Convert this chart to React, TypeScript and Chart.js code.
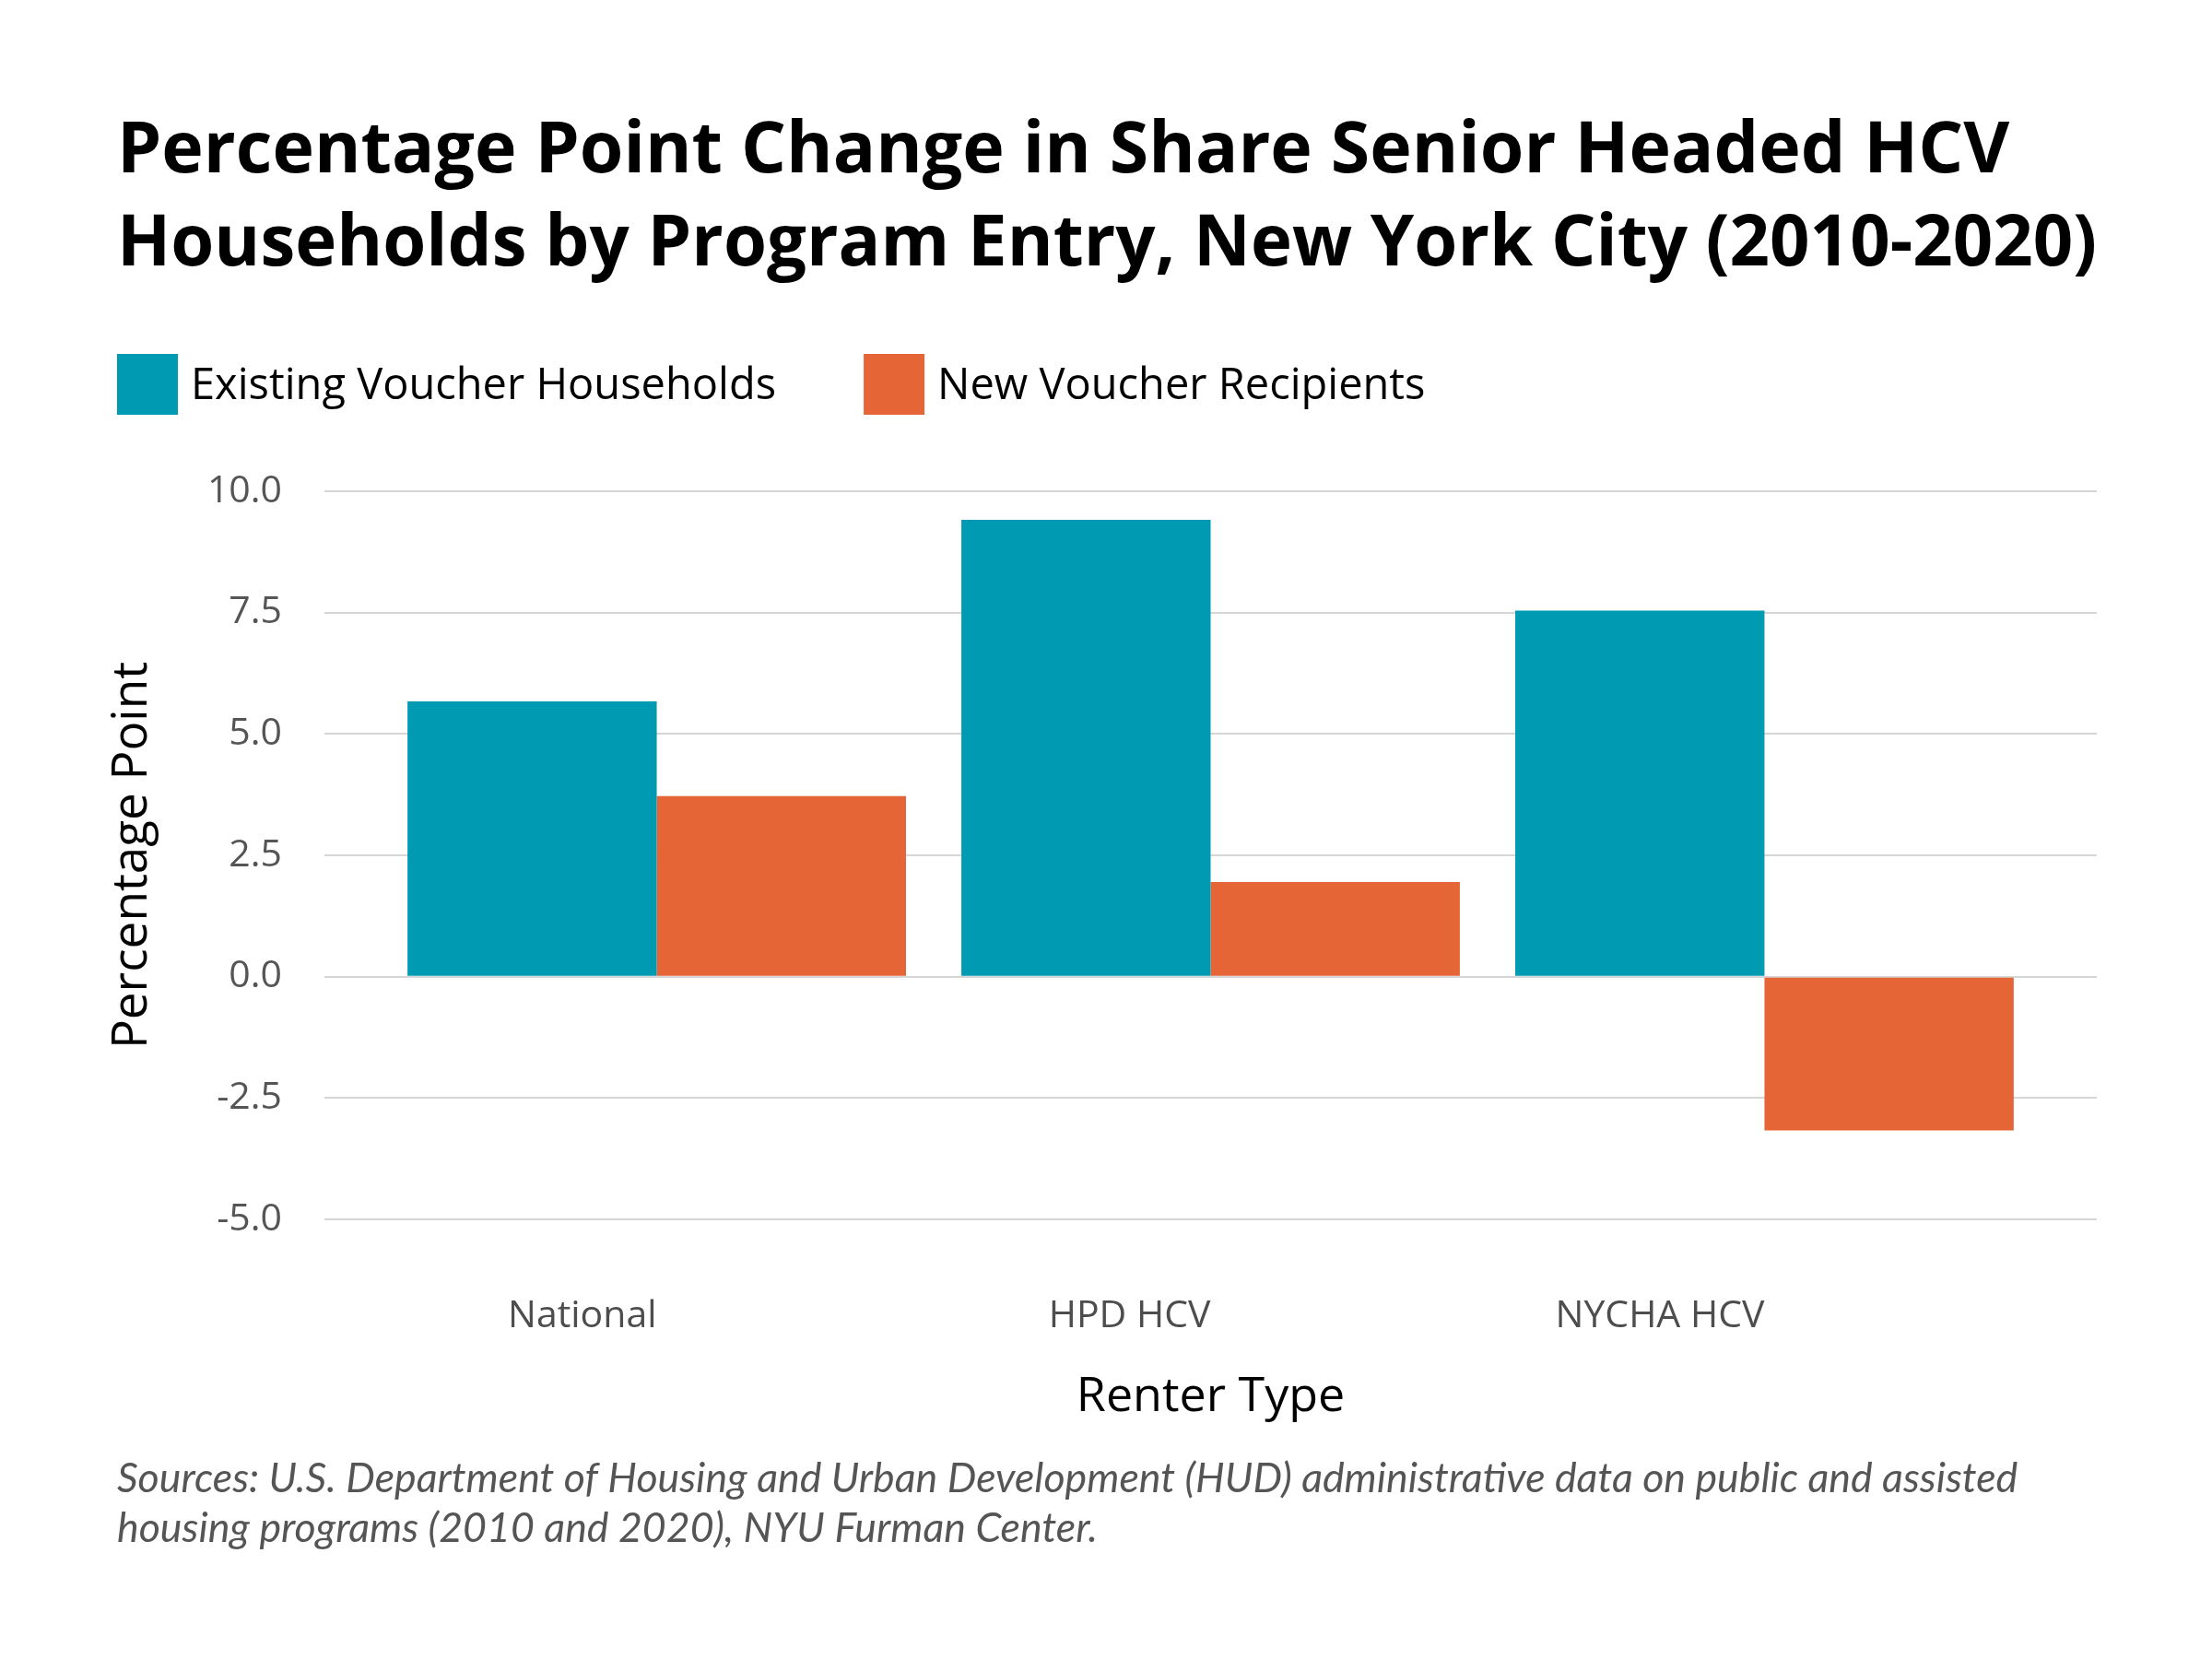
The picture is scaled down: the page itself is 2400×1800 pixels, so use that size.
import React, { useEffect, useRef } from "react";
import { Chart, registerables } from "chart.js";

Chart.register(...registerables);

const categories = ["National", "HPD HCV", "NYCHA HCV"];
const existingVoucher = [5.67, 9.41, 7.54];
const newRecipients = [3.72, 1.95, -3.17];
const seriesLabels = ["Existing Voucher Households", "New Voucher Recipients"];
const seriesColors = ["#009AB3", "#E66537"];
const yTickValues = [-5, -2.5, 0, 2.5, 5, 7.5, 10];
const titleLines = [
  "Percentage Point Change in Share Senior Headed HCV",
  "Households by Program Entry, New York City (2010-2020)",
];
const captionLines = [
  "Sources: U.S. Department of Housing and Urban Development (HUD) administrative data on public and assisted",
  "housing programs (2010 and 2020), NYU Furman Center.",
];
const xAxisTitle = "Renter Type";
const yAxisTitle = "Percentage Point";

const swatchLegend = {
  id: "swatchLegend",
  afterDraw(chart: any, _args: any, opts: any) {
    const ctx = chart.ctx;
    ctx.save();
    ctx.font = `${opts.fontWeight} ${opts.fontSize}px ${opts.fontFamily}`;
    ctx.textBaseline = "alphabetic";
    ctx.textAlign = "left";
    let x = opts.x;
    chart.data.datasets.forEach((ds: any) => {
      ctx.fillStyle = ds.backgroundColor;
      ctx.fillRect(x, opts.y, opts.box, opts.box);
      ctx.fillStyle = opts.color;
      const tx = x + opts.box + opts.textGap;
      ctx.fillText(ds.label, tx, opts.baseline);
      x = tx + ctx.measureText(ds.label).width + opts.itemGap;
    });
    ctx.restore();
  },
};

export default function App() {
  const canvasRef = useRef<HTMLCanvasElement | null>(null);

  useEffect(() => {
    if (!canvasRef.current) return;
    const chart = new Chart(canvasRef.current, {
      type: "bar",
      data: {
        datasets: [
          {
            label: seriesLabels[0],
            data: existingVoucher.map((v, i) => ({ x: i, y: v })),
            backgroundColor: seriesColors[0],
            borderWidth: 0,
          },
          {
            label: seriesLabels[1],
            data: newRecipients.map((v, i) => ({ x: i, y: v })),
            backgroundColor: seriesColors[1],
            borderWidth: 0,
          },
        ],
      },
      options: {
        animation: false,
        responsive: true,
        maintainAspectRatio: false,
        devicePixelRatio: 1,
        layout: { padding: { left: 119, right: 117, top: 0, bottom: 106 } },
        datasets: {
          bar: { categoryPercentage: 0.9, barPercentage: 1.0 },
        },
        scales: {
          x: {
            type: "linear",
            min: -0.6,
            max: 2.6,
            offset: false,
            afterBuildTicks: (scale: any) => {
              scale.ticks = categories.map((_, i) => ({ value: i }));
            },
            afterFit: (scale: any) => {
              scale.height = 224;
            },
            grid: { display: false, drawTicks: false, offset: false },
            border: { display: false },
            ticks: {
              align: "end",
              padding: 81,
              color: "#4d4d4d",
              font: { family: "'Open Sans'", size: 41 },
              callback: (v: any) => categories[v] ?? "",
              maxRotation: 0,
              autoSkip: false,
            },
            title: {
              display: true,
              text: xAxisTitle,
              color: "#000000",
              font: { family: "'Open Sans'", size: 52 },
              padding: { top: 31, bottom: 0 },
            },
          },
          y: {
            min: -5,
            max: 10,
            afterBuildTicks: (scale: any) => {
              scale.ticks = yTickValues.map((v) => ({ value: v }));
            },
            afterFit: (scale: any) => {
              scale.width = 225;
            },
            grid: { color: "#d6d6d6", lineWidth: 2, drawTicks: false },
            border: { display: false },
            ticks: {
              padding: 46,
              color: "#555555",
              font: { family: "'Open Sans'", size: 41 },
              callback: (v: any) => Number(v).toFixed(1),
            },
            title: {
              display: true,
              text: yAxisTitle,
              color: "#000000",
              font: { family: "'Open Sans'", size: 53 },
              padding: { top: -15, bottom: 0 },
            },
          },
        },
        plugins: {
          legend: { display: false },
          tooltip: { enabled: false },
          title: {
            display: true,
            text: titleLines,
            align: "start",
            color: "#000000",
            font: { family: "'Open Sans'", size: 77, weight: "bold", lineHeight: 101 / 77 },
            padding: { top: 107, bottom: 216 },
          },
          subtitle: {
            display: true,
            position: "bottom",
            text: captionLines,
            align: "start",
            color: "#555555",
            font: { family: "Lato", size: 44.7, style: "italic", lineHeight: 54 / 44.7 },
            padding: { top: 31, bottom: 0 },
          },
          swatchLegend: {
            x: 119,
            y: 376,
            box: 66,
            textGap: 14,
            itemGap: 95,
            baseline: 425,
            fontSize: 47,
            fontWeight: "normal",
            fontFamily: "'Open Sans'",
            color: "#000000",
          },
        } as any,
      },
      plugins: [swatchLegend],
    } as any);
    return () => chart.destroy();
  }, []);

  return (
    <div style={{ width: 2384, height: 1784, position: "relative", background: "#ffffff" }}>
      <canvas ref={canvasRef} />
    </div>
  );
}
